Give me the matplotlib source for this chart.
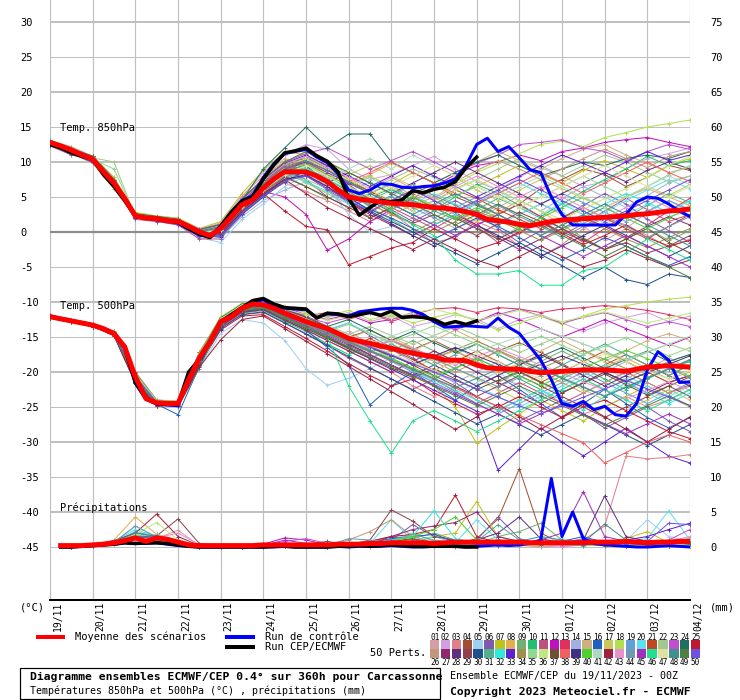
import matplotlib
matplotlib.use("Agg")
import matplotlib.pyplot as plt
from matplotlib import transforms as mtrans
from matplotlib.patches import Rectangle

# ---------------- DATA ----------------
DATE_LABELS = ["19/11", "20/11", "21/11", "22/11", "23/11", "24/11", "25/11", "26/11",
               "27/11", "28/11", "29/11", "30/11", "01/12", "02/12", "03/12", "04/12"]
LEFT_TICKS = [30, 25, 20, 15, 10, 5, 0, -5, -10, -15, -20, -25, -30, -35, -40, -45]
RIGHT_TICKS = [75, 70, 65, 60, 55, 50, 45, 40, 35, 30, 25, 20, 15, 10, 5, 0]

HOURS_12 = list(range(0, 361, 12))      # members (T)
HOURS_12P = list(range(12, 361, 12))    # members (precip)
HOURS_6 = list(range(0, 361, 6))        # mean / control (T)
HOURS_6P = list(range(6, 361, 6))       # mean / control (precip)
HOURS_6_OPER = list(range(0, 241, 6))   # deterministic run (T)
HOURS_6P_OPER = list(range(6, 241, 6))  # deterministic run (precip)

MEMBER_COLORS = [
    "#d4a0a8", "#d0a0e0", "#e08088", "#a05030", "#a0d0f0", "#8058b0", "#c0c020", "#e0b050", "#70b070", "#20c070",
    "#c05080", "#c010c0", "#e03060", "#a0b0e0", "#d0b080", "#2060c0", "#c8c860", "#b0e050", "#60a0d8", "#60e0f0",
    "#c04820", "#a0c890", "#c050d0", "#207060", "#c01830", "#c09878", "#902870", "#603080", "#904050", "#205090",
    "#50b090", "#30e8e0", "#6020d0", "#a09050", "#90d890", "#c0e880", "#705030", "#f06060", "#403080", "#50d030",
    "#b0d8c0", "#a02040", "#e890d0", "#7098b0", "#a030c0", "#20e090", "#e0e0a0", "#409090", "#508040", "#7050e0",
]

T850_MEAN = [12.8, 12.3, 11.7, 11.0, 10.4, 8.6, 7.0, 4.8, 2.3, 2.0,
             1.9, 1.6, 1.5, 0.8, 0.0, -0.5, 0.5, 2.2, 3.9, 4.6,
             6.3, 7.6, 8.6, 8.6, 8.6, 8.0, 7.2, 6.0, 5.0, 4.7,
             4.5, 4.3, 4.1, 4.0, 3.9, 3.7, 3.5, 3.4, 3.2, 2.9,
             2.5, 1.8, 1.6, 1.4, 1.1, 0.9, 1.2, 1.5, 1.7, 1.8,
             1.9, 2.0, 2.1, 2.2, 2.3, 2.5, 2.6, 2.8, 3.0, 3.1, 3.3]
T850_OPER = [12.5, 12.0, 11.3, 10.8, 10.4, 8.2, 6.5, 4.5, 2.2, 2.0,
             1.8, 1.6, 1.4, 0.5, -0.3, -0.8, 0.8, 2.8, 4.4, 5.0,
             7.6, 9.6, 11.3, 11.6, 12.0, 10.9, 10.1, 8.6, 4.8, 2.4,
             3.5, 4.5, 4.3, 4.6, 5.9, 5.6, 6.1, 6.4, 7.2, 9.2, 10.7]
T850_CTRL = [12.6, 12.1, 11.4, 10.9, 10.3, 8.4, 6.8, 4.6, 2.3, 2.0,
             1.8, 1.6, 1.3, 0.4, -0.4, -0.7, 0.9, 2.9, 4.5, 5.2,
             7.8, 9.8, 11.2, 11.5, 11.8, 10.7, 9.9, 8.3, 6.0, 5.5,
             6.0, 6.9, 6.8, 6.4, 6.3, 6.5, 6.6, 7.0, 7.6, 9.5,
             12.5, 13.4, 11.5, 12.2, 10.6, 8.9, 8.5, 5.0, 2.5, 1.0,
             1.0, 1.0, 1.0, 1.0, 2.5, 4.3, 5.0, 4.8, 4.0, 3.0, 2.2]

T500_MEAN = [-12.1, -12.4, -12.7, -13.0, -13.3, -13.8, -14.5, -16.4, -20.7, -23.8,
             -24.4, -24.5, -24.5, -21.1, -18.0, -15.7, -12.8, -12.1, -10.9, -10.3,
             -10.4, -10.9, -11.6, -12.2, -12.8, -13.3, -13.8, -14.5, -15.2, -15.6,
             -15.9, -16.3, -16.6, -17.0, -17.3, -17.6, -17.8, -18.3, -18.3, -18.4,
             -19.0, -19.4, -19.5, -19.6, -19.6, -19.9, -20.1, -20.0, -19.9, -19.8,
             -19.7, -19.7, -19.7, -19.8, -19.9, -19.6, -19.3, -19.2, -19.1, -19.2, -19.3]
T500_OPER = [-12.0, -12.4, -12.7, -13.0, -13.3, -13.8, -14.5, -16.5, -21.5, -23.8,
             -24.5, -24.6, -24.6, -20.0, -18.2, -15.5, -12.8, -11.8, -10.8, -9.8,
             -9.5, -10.3, -10.8, -10.9, -11.0, -12.3, -11.6, -11.7, -12.1, -11.8,
             -11.5, -11.9, -11.3, -12.2, -12.1, -12.2, -12.5, -13.2, -12.8, -13.2, -12.7]
T500_CTRL = [-12.0, -12.4, -12.7, -13.0, -13.3, -13.8, -14.5, -16.6, -21.6, -23.9,
             -24.6, -24.7, -24.8, -20.2, -18.3, -15.6, -12.9, -11.9, -10.9, -10.0,
             -9.7, -10.5, -10.9, -11.0, -11.1, -12.2, -11.7, -11.8, -12.0, -11.4,
             -11.2, -11.0, -10.9, -10.9, -11.2, -11.8, -12.8, -13.6, -13.5, -13.4,
             -13.5, -13.6, -12.3, -13.6, -14.5, -16.4, -18.3, -21.1, -24.5, -24.9,
             -24.2, -25.4, -24.9, -26.1, -26.3, -24.5, -19.7, -17.1, -18.3, -21.5, -21.4]

PRECIP_MEAN = [0.2, 0.2, 0.2, 0.3, 0.4, 0.6, 0.9, 1.3, 0.8, 1.3,
               1.1, 0.7, 0.3, 0.2, 0.2, 0.2, 0.2, 0.2, 0.2, 0.3,
               0.3, 0.3, 0.3, 0.3, 0.3, 0.3, 0.4, 0.4, 0.4, 0.5,
               0.5, 0.6, 0.6, 0.6, 0.6, 0.5, 0.6, 0.7, 0.7, 0.7,
               0.7, 0.7, 0.7, 0.7, 0.6, 0.6, 0.6, 0.6, 0.6, 0.6,
               0.7, 0.7, 0.7, 0.8, 0.7, 0.6, 0.7, 0.7, 0.8, 0.8]
PRECIP_OPER = [0.0, 0.0, 0.1, 0.2, 0.3, 0.4, 0.6, 0.5, 0.6, 0.6,
               0.5, 0.3, 0.1, 0.0, 0.0, 0.0, 0.0, 0.0, 0.0, 0.0,
               0.1, 0.1, 0.0, 0.0, 0.0, 0.0, 0.1, 0.1, 0.2, 0.1,
               0.2, 0.3, 0.2, 0.1, 0.1, 0.1, 0.1, 0.1, 0.0, 0.0]
PRECIP_CTRL = [0.0, 0.0, 0.1, 0.2, 0.3, 0.4, 0.6, 0.5, 0.5, 0.6,
               0.4, 0.2, 0.1, 0.0, 0.0, 0.0, 0.0, 0.0, 0.0, 0.0,
               0.0, 0.1, 0.0, 0.0, 0.0, 0.0, 0.1, 0.0, 0.1, 0.1,
               0.1, 0.2, 0.1, 0.0, 0.0, 0.1, 0.2, 0.1, 0.0, 0.1,
               0.2, 0.3, 0.2, 0.3, 0.5, 1.0, 9.8, 1.5, 5.0, 1.2,
               0.5, 0.3, 0.2, 0.1, 0.0, 0.0, 0.1, 0.2, 0.1, 0.0]

T850_MEMBERS = [
    [12.6, 11.5, 10.8, 7.5, 2.0, 1.8, 1.2, -0.5, 0.8, 4.5, 7.8, 10.2, 9.5, 6.0, 3.2, 5.5, 7.0, 4.2, 2.1, 0.5, 1.8, 3.5, 5.2, 4.0, 2.5, 0.8, -1.2, 0.5, 2.8, 4.5, 3.0],
    [12.9, 12.0, 10.1, 6.5, 2.5, 2.2, 1.7, 0.3, 1.2, 5.0, 8.5, 11.0, 12.5, 11.8, 9.0, 7.5, 8.2, 9.5, 10.8, 9.0, 7.2, 6.0, 7.8, 9.5, 8.0, 6.5, 7.2, 9.0, 10.5, 11.2, 12.0],
    [12.7, 11.4, 10.6, 7.2, 2.1, 1.6, 1.4, -0.2, 0.0, 3.0, 5.5, 7.0, 5.8, 4.5, 3.0, 1.5, 2.8, 0.5, -1.5, -0.8, 1.5, 0.2, -2.0, -3.5, -1.8, 0.5, 2.0, 1.0, -0.5, -2.2, -1.0],
    [13.0, 11.8, 10.2, 6.8, 2.6, 2.0, 1.8, 0.2, 1.0, 4.8, 7.5, 9.8, 10.5, 9.5, 7.5, 5.8, 4.0, 5.5, 6.8, 5.0, 3.8, 2.5, 4.0, 6.2, 7.5, 9.0, 8.2, 6.5, 7.8, 9.5, 8.8],
    [12.5, 11.2, 10.0, 6.9, 2.2, 1.7, 1.3, -0.8, -1.5, 1.8, 4.0, 6.5, 8.0, 6.2, 2.5, 0.0, 0.8, 2.0, 3.5, 2.0, 0.5, -1.0, 0.8, 2.5, 4.2, 3.0, 1.2, 2.5, 4.0, 2.2, 3.0],
    [12.8, 11.6, 10.5, 7.3, 2.4, 2.1, 1.6, 0.1, 0.4, 3.8, 6.8, 9.0, 7.5, 5.0, 3.5, 4.8, 3.2, 1.5, 3.0, 4.5, 2.8, 0.5, -1.5, 0.2, 2.0, 3.8, 5.5, 4.0, 1.8, 0.2, -1.5],
    [12.9, 11.9, 10.9, 7.8, 2.8, 2.3, 2.0, 0.5, 1.5, 5.5, 8.8, 11.5, 11.0, 9.2, 7.0, 5.5, 6.8, 8.5, 7.0, 5.2, 6.5, 8.0, 9.5, 8.2, 7.0, 8.8, 10.2, 9.0, 7.8, 9.5, 10.5],
    [12.4, 11.3, 9.8, 6.2, 2.0, 1.5, 1.1, -0.6, 0.2, 3.5, 6.0, 8.2, 9.8, 8.5, 6.2, 4.0, 2.5, 3.8, 5.0, 3.2, 1.5, 2.8, 4.5, 3.0, 1.0, 2.2, 3.5, 5.0, 6.2, 5.0, 3.8],
    [12.6, 11.7, 10.7, 7.0, 2.3, 1.9, 1.6, -0.1, 0.6, 4.0, 6.5, 8.0, 6.5, 4.8, 5.8, 3.5, 1.8, 0.0, 1.5, 3.0, 4.2, 2.5, 0.8, -0.5, 1.0, -0.8, -2.5, -1.0, 0.5, -1.2, 0.2],
    [13.1, 12.1, 10.3, 6.6, 2.5, 2.0, 1.5, 0.0, 0.9, 4.2, 7.0, 9.5, 10.8, 9.0, 6.5, 5.0, 6.2, 4.5, 3.2, 5.0, 6.8, 5.5, 3.8, 2.2, 4.0, 5.8, 7.5, 9.0, 10.8, 9.5, 10.2],
    [12.3, 11.0, 10.4, 7.4, 1.8, 1.5, 1.0, -1.0, -1.0, 2.5, 5.0, 7.5, 9.0, 7.8, 4.5, 2.0, 3.5, 2.0, 0.5, 2.2, 0.8, -1.5, -0.2, 1.5, -0.5, 1.2, 3.0, 4.8, 3.2, 1.5, 2.5],
    [12.7, 11.8, 10.6, 7.1, 2.2, 1.9, 1.4, -0.3, 0.2, 3.2, 5.8, 5.0, 2.5, -2.6, -1.0, 1.5, 3.2, 4.8, 6.5, 8.2, 9.5, 10.0, 11.0, 10.2, 11.5, 12.0, 12.8, 13.2, 13.5, 12.8, 12.2],
    [12.8, 11.6, 10.3, 6.9, 2.4, 2.0, 1.5, 0.2, 0.7, 4.1, 6.9, 9.3, 8.2, 6.0, 4.2, 2.8, 4.5, 6.0, 4.5, 2.8, 1.0, 2.5, 4.0, 2.2, 0.5, -1.5, 0.5, 2.5, 1.0, 3.0, 4.8],
    [12.5, 11.4, 10.0, 6.7, 2.1, 1.8, 1.3, -0.4, -0.8, 2.2, 4.5, 6.0, 7.2, 5.5, 4.0, 5.5, 7.0, 5.2, 3.8, 2.5, 4.2, 5.8, 4.5, 3.0, 4.8, 6.5, 5.0, 3.5, 5.2, 7.0, 8.0],
    [13.0, 12.2, 10.8, 7.6, 2.6, 2.2, 1.9, 0.4, 1.3, 5.2, 8.0, 10.5, 9.5, 8.0, 6.8, 8.2, 9.8, 8.5, 7.0, 8.5, 10.0, 11.5, 10.2, 9.0, 10.5, 11.8, 12.5, 11.0, 9.8, 8.5, 9.2],
    [12.6, 11.5, 10.2, 6.8, 2.3, 1.9, 1.4, -0.2, 0.3, 3.6, 6.2, 8.8, 9.5, 7.0, 4.8, 3.2, 2.0, 0.5, -1.0, 0.5, 2.0, 0.8, -0.8, -2.5, -4.0, -2.5, -0.8, -2.0, -3.5, -4.8, -3.5],
    [12.8, 11.7, 10.4, 7.0, 2.4, 2.0, 1.6, 0.0, 0.5, 3.9, 6.6, 8.7, 7.0, 5.5, 6.8, 8.0, 6.5, 5.0, 6.2, 7.8, 6.0, 4.5, 6.0, 7.5, 6.2, 4.8, 3.5, 5.0, 6.5, 5.2, 6.8],
    [12.9, 11.8, 10.5, 7.2, 2.5, 2.1, 1.7, 0.1, 0.9, 4.5, 7.2, 9.8, 11.5, 10.0, 8.2, 9.5, 8.0, 6.5, 5.0, 6.8, 8.5, 9.8, 11.2, 12.5, 13.0, 12.2, 13.5, 14.2, 15.0, 15.5, 16.0],
    [12.4, 11.2, 9.9, 6.5, 2.0, 1.6, 1.2, -0.7, -0.5, 2.8, 5.2, 7.8, 8.5, 6.8, 5.2, 3.8, 5.0, 3.5, 2.0, 3.5, 5.0, 3.8, 2.5, 4.0, 5.5, 4.2, 2.8, 1.5, 3.0, 4.5, 3.2],
    [12.7, 11.6, 10.3, 7.0, 2.3, 1.9, 1.5, -0.2, 0.4, 3.7, 6.2, 8.5, 9.2, 7.5, 5.8, 7.2, 5.5, 4.0, 5.5, 4.0, 2.5, 1.0, 2.5, 4.0, 2.8, 1.2, 2.8, 4.5, 6.0, 7.5, 6.2],
    [12.8, 11.9, 10.7, 7.4, 2.5, 2.1, 1.6, 0.2, 0.8, 4.3, 7.0, 9.2, 10.0, 8.8, 7.2, 5.8, 4.5, 3.0, 4.5, 6.0, 4.8, 3.2, 1.8, 0.5, 2.0, 3.5, 2.0, 0.5, -1.0, 0.8, 2.5],
    [12.6, 11.5, 10.6, 10.0, 2.2, 1.8, 1.3, -0.3, 0.1, 3.4, 5.9, 8.0, 7.5, 6.2, 4.8, 6.0, 7.5, 9.0, 7.8, 6.2, 7.5, 9.0, 10.5, 9.2, 8.0, 9.5, 11.0, 10.0, 8.5, 7.2, 8.0],
    [12.9, 12.0, 10.8, 7.5, 2.6, 2.2, 1.8, 0.4, 1.1, 4.8, 7.5, 10.0, 11.2, 12.0, 10.5, 9.0, 10.2, 11.5, 10.0, 8.5, 9.8, 11.0, 12.5, 12.8, 13.2, 12.0, 11.5, 10.2, 11.5, 12.5, 11.8],
    [12.7, 11.6, 10.5, 7.0, 2.3, 1.9, 1.5, 0.0, 0.8, 4.5, 9.0, 12.0, 15.0, 12.0, 14.0, 14.0, 10.0, 8.5, 7.0, 8.5, 10.0, 11.0, 9.5, 8.0, 9.0, 10.0, 9.5, 10.5, 11.0, 10.5, 11.5],
    [12.5, 11.3, 10.1, 6.8, 2.1, 1.7, 1.2, -0.5, -0.2, 3.0, 5.5, 3.0, 0.8, 0.3, -4.7, -3.5, -2.3, -1.5, 0.5, -1.0, -2.5, -1.5, 0.0, 1.5, -0.2, -1.8, -0.5, 1.0, -0.8, -2.0, -1.2],
    [12.8, 11.7, 10.4, 7.1, 2.4, 2.0, 1.5, 0.1, 0.6, 4.0, 6.8, 9.0, 9.8, 8.2, 6.5, 4.8, 3.2, 4.5, 6.0, 7.2, 8.8, 10.2, 9.0, 7.5, 9.0, 10.5, 11.8, 10.5, 9.2, 10.8, 11.5],
    [12.6, 11.4, 10.2, 6.9, 2.2, 1.8, 1.3, -0.4, 0.0, 3.3, 5.6, 7.5, 8.0, 6.5, 4.2, 2.5, 1.0, -0.5, 1.0, 2.5, 1.0, -0.8, -2.5, -1.0, 0.5, 2.0, 0.8, -0.8, 0.8, 2.2, 1.0],
    [12.9, 11.8, 10.6, 7.3, 2.5, 2.1, 1.7, 0.2, 0.9, 4.4, 7.2, 9.5, 8.5, 7.0, 8.5, 7.0, 5.5, 7.0, 8.5, 10.0, 8.5, 7.0, 5.5, 4.0, 5.5, 7.0, 8.5, 7.2, 8.8, 10.0, 9.0],
    [12.7, 11.5, 10.3, 6.9, 2.3, 1.9, 1.4, -0.2, 0.3, 3.6, 6.0, 8.2, 10.5, 9.0, 6.8, 4.5, 2.8, 1.2, 2.5, 1.0, -0.5, 1.2, 2.8, 1.5, 0.0, -1.2, -2.5, -1.5, -3.0, -2.0, -0.5],
    [12.5, 11.3, 10.0, 6.6, 2.0, 1.6, 1.1, -0.6, -0.7, 2.6, 5.0, 7.2, 8.8, 7.2, 5.0, 3.0, 1.5, 0.0, -1.5, -3.0, -4.5, -3.0, -1.5, -3.2, -4.8, -6.5, -5.0, -6.8, -7.5, -6.0, -6.5],
    [12.8, 11.7, 10.5, 7.1, 2.4, 2.0, 1.6, 0.0, 0.5, 3.9, 6.5, 8.8, 9.5, 8.0, 6.2, 4.5, 6.0, 4.5, 3.0, 1.8, 3.2, 4.8, 3.5, 2.0, 0.5, 2.0, 3.5, 2.0, 3.8, 5.5, 4.2],
    [12.6, 11.6, 10.4, 7.0, 2.3, 1.9, 1.5, -0.1, 0.4, 3.8, 6.4, 8.6, 7.2, 5.8, 4.2, 5.5, 4.0, 2.5, 1.0, 2.5, 4.0, 5.5, 7.0, 5.5, 4.0, 2.5, 4.0, 5.5, 4.2, 2.8, 4.5],
    [12.9, 11.9, 10.8, 7.5, 2.6, 2.2, 1.8, 0.3, 1.0, 4.6, 7.4, 9.8, 11.0, 9.5, 8.0, 6.5, 8.0, 9.5, 8.0, 6.5, 5.0, 6.5, 8.0, 9.5, 11.0, 9.8, 8.5, 10.0, 11.5, 10.2, 11.0],
    [12.4, 11.2, 10.1, 6.7, 2.1, 1.7, 1.2, -0.5, -0.3, 3.0, 5.4, 7.8, 9.0, 7.5, 5.8, 4.0, 2.5, 1.2, 0.0, 1.5, 3.0, 1.8, 0.2, -1.2, 0.2, 1.8, 0.5, -1.0, -2.2, -0.8, 0.5],
    [12.7, 11.6, 10.4, 9.0, 2.4, 2.0, 1.5, 0.0, 0.6, 3.9, 6.4, 8.6, 9.0, 7.8, 6.5, 7.8, 6.2, 5.0, 3.8, 5.2, 6.5, 5.0, 3.5, 5.0, 6.5, 8.0, 6.5, 5.0, 6.5, 8.2, 9.5],
    [12.8, 11.8, 10.6, 7.2, 2.5, 2.1, 1.6, 0.1, 0.7, 4.1, 6.8, 9.2, 10.5, 9.0, 7.5, 6.0, 4.5, 3.0, 4.5, 6.0, 7.5, 6.0, 4.5, 3.0, 1.8, 3.2, 4.8, 6.2, 7.8, 9.5, 10.8],
    [12.6, 11.4, 10.2, 6.8, 2.2, 1.8, 1.3, -0.3, 0.2, 3.5, 5.8, 7.8, 6.5, 5.0, 3.5, 2.0, 3.5, 5.0, 3.5, 2.0, 0.5, -1.0, 0.5, 2.0, 0.5, -1.0, -2.5, -1.0, 0.5, -1.5, -3.0],
    [12.9, 11.8, 10.6, 7.3, 2.5, 2.1, 1.7, 0.2, 0.9, 4.3, 7.0, 9.5, 10.2, 8.8, 7.2, 8.5, 10.0, 8.5, 7.0, 5.5, 4.0, 5.5, 7.0, 8.5, 7.0, 5.5, 7.0, 8.5, 10.0, 8.5, 7.2],
    [12.5, 11.3, 10.0, 6.6, 2.1, 1.7, 1.2, -0.5, -0.4, 2.9, 5.3, 7.5, 8.2, 6.5, 4.5, 2.8, 1.2, -0.5, -2.0, -0.5, 1.0, -0.5, -2.0, -3.5, -2.0, -0.5, 1.0, -0.5, -2.0, -3.5, -2.0],
    [12.8, 11.7, 10.5, 7.1, 2.4, 2.0, 1.6, 0.1, 0.6, 4.0, 6.7, 9.0, 9.8, 8.2, 6.5, 5.0, 3.5, 5.0, 3.5, 2.0, 3.5, 2.0, 0.5, 2.0, 3.5, 5.0, 3.5, 2.0, 0.5, 2.0, 3.5],
    [12.7, 11.5, 10.3, 7.0, 2.3, 1.9, 1.4, -0.2, 0.3, 3.6, 6.1, 8.3, 9.0, 7.5, 9.0, 10.5, 9.0, 11.0, 9.5, 8.0, 6.5, 5.0, 6.5, 8.0, 6.5, 5.0, 3.5, 5.0, 6.5, 8.0, 6.8],
    [12.6, 11.4, 10.1, 6.7, 2.2, 1.8, 1.3, -0.4, -0.1, 3.2, 5.5, 7.5, 5.5, 3.5, 2.0, 0.5, -1.0, -2.5, -1.0, -2.5, -4.0, -5.0, -3.5, -2.0, -3.5, -5.0, -4.0, -2.5, -3.8, -5.0, -4.0],
    [12.9, 11.9, 10.7, 7.4, 2.5, 2.1, 1.7, 0.2, 0.9, 4.5, 7.3, 9.7, 10.8, 9.2, 7.8, 6.2, 7.8, 6.2, 4.8, 6.5, 8.0, 6.5, 5.0, 6.5, 5.0, 3.5, 2.0, 3.5, 5.0, 3.5, 2.0],
    [12.5, 11.4, 10.2, 6.8, 2.2, 1.8, 1.3, -0.4, 0.1, 3.4, 5.8, 8.0, 8.8, 7.2, 5.5, 3.8, 5.2, 6.8, 5.2, 3.8, 2.2, 3.8, 2.2, 0.8, -0.8, 0.8, 2.2, 0.8, -0.8, 0.8, 2.2],
    [12.8, 11.7, 10.5, 7.1, 2.4, 2.0, 1.5, 0.0, 0.6, 4.0, 6.6, 9.0, 10.0, 8.5, 7.0, 5.5, 4.0, 2.5, 1.0, -0.5, 1.0, 2.5, 1.0, -0.5, -2.0, -3.5, -2.0, -0.5, -2.0, -3.5, -5.0],
    [12.7, 11.6, 10.4, 7.0, 2.3, 1.9, 1.5, -0.1, 0.5, 3.8, 6.3, 8.5, 9.2, 7.5, 6.0, 4.5, 3.0, 1.0, -0.5, -4.0, -6.0, -6.0, -5.5, -7.6, -7.6, -5.5, -5.0, -3.0, -1.0, -2.5, -4.0],
    [12.6, 11.5, 10.3, 6.9, 2.3, 1.9, 1.4, -0.2, 0.3, 3.6, 6.0, 8.2, 9.5, 8.0, 6.5, 5.0, 6.5, 8.0, 9.5, 8.0, 6.5, 5.0, 3.5, 5.0, 6.5, 8.0, 9.5, 8.0, 6.5, 5.0, 6.5],
    [12.8, 11.8, 10.6, 7.2, 2.5, 2.1, 1.6, 0.1, 0.8, 4.2, 6.9, 9.3, 10.2, 8.8, 7.2, 5.5, 4.0, 2.5, 4.0, 5.5, 4.0, 2.5, 1.0, -0.5, 1.0, 2.5, 4.0, 2.5, 1.0, -0.5, -2.0],
    [12.9, 11.9, 10.8, 7.5, 2.6, 2.2, 1.8, 0.3, 1.1, 4.7, 7.5, 10.0, 11.5, 10.0, 8.5, 7.0, 5.5, 4.0, 2.5, 1.0, 2.5, 4.0, 2.5, 1.0, -0.5, -2.0, -3.5, -2.0, -3.5, -5.0, -6.5],
    [12.5, 11.3, 10.0, 6.6, 2.0, 1.6, 1.1, -0.6, -0.6, 2.7, 5.1, 7.3, 8.0, 6.2, 4.5, 3.0, 4.5, 6.0, 4.5, 3.0, 4.5, 6.0, 7.5, 6.0, 4.5, 3.0, 1.5, 3.0, 4.5, 6.0, 7.5],
]

T500_MEMBERS = [
    [-12.0, -12.6, -13.2, -14.3, -20.5, -24.2, -24.8, -18.5, -13.0, -11.2, -10.5, -12.0, -13.5, -15.0, -14.2, -16.0, -17.5, -19.0, -17.8, -16.5, -18.0, -20.5, -22.0, -20.5, -19.0, -21.0, -22.5, -21.0, -19.5, -18.0, -19.5],
    [-12.2, -12.8, -13.4, -14.6, -21.0, -24.5, -24.3, -17.5, -12.5, -10.2, -9.5, -10.8, -11.5, -12.2, -11.5, -12.8, -12.0, -13.5, -12.8, -11.8, -12.5, -13.8, -12.5, -11.8, -13.0, -14.2, -13.0, -12.2, -11.5, -12.8, -12.0],
    [-12.1, -12.7, -13.3, -14.5, -20.8, -24.6, -24.6, -18.8, -13.5, -11.5, -11.0, -12.5, -14.0, -15.5, -17.0, -18.5, -20.0, -22.0, -23.5, -22.0, -24.0, -25.5, -24.0, -22.5, -24.5, -26.0, -25.0, -23.5, -25.0, -24.0, -22.5],
    [-11.9, -12.5, -13.1, -14.2, -20.0, -24.0, -24.2, -17.2, -12.2, -10.5, -10.0, -11.2, -12.0, -13.5, -15.0, -14.0, -15.5, -16.8, -15.5, -17.0, -18.5, -17.0, -15.8, -17.2, -18.8, -20.5, -19.0, -17.5, -19.0, -20.5, -19.0],
    [-12.3, -12.9, -13.5, -14.8, -21.5, -24.8, -24.8, -19.5, -14.5, -12.5, -13.0, -15.5, -19.5, -21.9, -20.9, -19.5, -18.0, -19.8, -21.5, -23.0, -21.5, -20.0, -22.0, -24.0, -22.5, -21.0, -19.5, -21.0, -22.5, -24.0, -22.5],
    [-12.0, -12.6, -13.2, -14.4, -20.6, -24.3, -24.5, -18.0, -12.8, -10.8, -10.3, -11.5, -12.8, -14.0, -13.0, -14.8, -16.5, -18.0, -20.0, -21.5, -23.5, -25.0, -27.0, -25.5, -24.0, -26.0, -28.0, -26.5, -25.0, -27.0, -28.5],
    [-12.1, -12.7, -13.3, -14.5, -20.7, -24.4, -24.5, -18.2, -13.0, -11.0, -10.6, -12.0, -13.2, -14.5, -16.0, -17.5, -19.0, -20.5, -22.0, -25.0, -30.2, -28.0, -26.0, -24.0, -25.5, -27.0, -25.0, -23.5, -22.0, -23.5, -25.0],
    [-12.2, -12.8, -13.4, -14.6, -21.2, -24.6, -24.4, -17.8, -12.6, -10.6, -10.2, -11.4, -12.5, -13.6, -15.0, -16.2, -15.0, -16.5, -18.0, -17.0, -18.5, -20.0, -18.8, -17.5, -19.0, -20.5, -19.2, -18.0, -19.5, -21.0, -20.0],
    [-12.0, -12.6, -13.2, -14.4, -20.4, -24.2, -24.4, -18.3, -13.2, -11.3, -10.8, -12.2, -13.8, -15.2, -16.8, -18.0, -17.0, -15.5, -17.0, -18.5, -20.0, -21.5, -20.0, -18.5, -17.0, -18.5, -20.0, -21.5, -20.0, -18.5, -17.5],
    [-12.1, -12.7, -13.3, -14.5, -20.9, -24.5, -24.6, -18.6, -13.4, -11.6, -11.2, -12.8, -14.2, -16.0, -17.5, -16.2, -18.0, -19.5, -21.0, -19.5, -18.0, -19.5, -21.0, -22.5, -21.0, -19.5, -21.0, -22.5, -21.0, -19.5, -18.5],
    [-12.3, -12.9, -13.5, -14.7, -21.3, -24.7, -24.6, -18.9, -13.6, -11.8, -11.5, -13.0, -14.5, -16.2, -18.0, -19.5, -21.0, -22.5, -21.0, -22.8, -24.5, -23.0, -21.5, -23.0, -24.5, -23.0, -21.5, -20.0, -21.5, -23.0, -21.8],
    [-11.9, -12.5, -13.1, -14.3, -20.2, -24.1, -24.3, -17.6, -12.3, -10.4, -9.8, -10.8, -11.8, -12.5, -11.8, -13.0, -12.5, -11.5, -12.8, -14.0, -12.8, -11.5, -12.5, -13.8, -15.0, -13.8, -12.5, -13.8, -15.0, -16.2, -15.0],
    [-12.0, -12.6, -13.2, -14.3, -20.4, -24.3, -24.4, -17.8, -12.6, -10.5, -10.0, -11.0, -12.0, -11.5, -12.5, -11.5, -12.8, -11.8, -11.0, -10.8, -11.5, -10.8, -11.0, -11.5, -11.0, -10.8, -10.5, -10.8, -11.2, -11.8, -12.5],
    [-12.2, -12.8, -13.4, -14.6, -21.0, -24.5, -24.5, -18.4, -13.1, -11.1, -10.7, -12.1, -13.5, -14.8, -16.5, -18.0, -16.8, -18.5, -20.0, -21.5, -20.0, -18.5, -20.0, -21.5, -23.0, -21.5, -20.0, -18.5, -20.0, -21.5, -20.5],
    [-12.0, -12.6, -13.2, -14.4, -20.6, -24.4, -24.5, -18.0, -12.8, -10.9, -10.4, -11.6, -12.8, -14.0, -15.2, -14.0, -15.5, -17.0, -15.5, -14.0, -15.5, -17.0, -18.5, -17.0, -15.5, -17.0, -18.5, -17.0, -15.5, -14.5, -15.5],
    [-12.1, -12.7, -13.3, -14.5, -20.8, -24.6, -26.1, -19.2, -13.4, -11.4, -11.0, -12.6, -14.0, -16.5, -19.0, -24.7, -22.0, -20.0, -22.0, -24.0, -22.0, -20.5, -22.5, -24.5, -26.5, -24.5, -22.5, -24.5, -26.5, -28.0, -26.5],
    [-12.2, -12.8, -13.4, -14.6, -21.1, -24.5, -24.4, -17.9, -12.7, -10.7, -10.2, -11.5, -12.6, -13.8, -15.0, -16.5, -18.0, -19.5, -18.0, -19.5, -21.0, -22.5, -24.0, -22.5, -21.0, -22.5, -24.0, -25.5, -24.0, -22.5, -24.0],
    [-11.9, -12.5, -13.1, -14.2, -20.1, -24.0, -24.2, -17.3, -12.1, -10.2, -9.6, -10.6, -11.5, -12.0, -11.2, -12.5, -11.8, -13.0, -12.2, -11.5, -12.8, -14.0, -13.0, -12.0, -13.2, -12.0, -11.0, -10.5, -10.0, -9.6, -9.3],
    [-12.1, -12.7, -13.3, -14.5, -20.7, -24.4, -24.5, -18.1, -12.9, -11.0, -10.5, -11.8, -13.0, -14.2, -15.5, -17.0, -18.5, -20.0, -21.5, -23.0, -24.5, -26.0, -24.5, -23.0, -21.5, -20.0, -21.5, -23.0, -24.5, -23.0, -21.5],
    [-12.0, -12.6, -13.2, -14.4, -20.5, -24.3, -24.4, -17.9, -12.7, -10.8, -10.4, -11.7, -12.9, -14.0, -13.0, -14.5, -16.0, -17.5, -19.0, -20.5, -22.0, -23.5, -25.0, -23.5, -22.0, -20.5, -19.0, -20.5, -22.0, -23.5, -22.0],
    [-12.2, -12.8, -13.4, -14.6, -21.0, -24.6, -24.6, -18.5, -13.2, -11.2, -10.8, -12.2, -13.6, -15.0, -16.5, -15.2, -16.8, -18.2, -19.8, -18.5, -17.0, -18.5, -20.0, -21.5, -20.0, -18.5, -17.0, -18.5, -20.0, -21.5, -20.5],
    [-12.0, -12.6, -13.2, -14.3, -20.3, -24.2, -24.3, -17.7, -12.5, -10.6, -10.1, -11.3, -12.4, -13.4, -14.6, -13.5, -14.8, -16.0, -14.8, -13.5, -14.8, -16.0, -17.2, -16.0, -14.8, -16.0, -17.2, -18.5, -17.2, -16.0, -17.0],
    [-12.1, -12.7, -13.3, -14.5, -20.6, -24.4, -24.5, -18.0, -12.8, -10.9, -10.3, -11.2, -12.2, -13.0, -12.2, -11.5, -12.5, -11.8, -12.8, -13.8, -12.8, -11.8, -11.0, -12.0, -13.0, -12.2, -11.5, -12.5, -13.5, -12.8, -13.5],
    [-11.9, -12.5, -13.1, -14.3, -20.2, -24.1, -24.3, -17.5, -12.3, -10.3, -9.8, -11.0, -12.2, -13.5, -12.5, -14.0, -15.5, -14.2, -15.8, -17.2, -16.0, -17.5, -19.0, -17.8, -16.5, -18.0, -19.5, -18.2, -17.0, -18.5, -17.5],
    [-12.3, -12.9, -13.5, -14.8, -21.5, -24.8, -24.8, -19.0, -14.0, -12.0, -11.8, -13.5, -15.2, -17.0, -18.8, -20.5, -22.0, -21.0, -23.0, -24.5, -26.0, -25.0, -23.5, -25.0, -26.5, -25.0, -24.0, -25.5, -27.0, -28.5, -29.5],
    [-12.0, -12.6, -13.2, -14.4, -20.6, -24.4, -24.5, -18.1, -12.9, -11.0, -10.5, -11.9, -13.1, -14.3, -15.5, -16.8, -15.5, -17.0, -18.5, -20.0, -18.5, -17.0, -18.5, -20.0, -21.5, -23.0, -21.5, -20.0, -21.5, -23.0, -22.0],
    [-12.2, -12.8, -13.4, -14.6, -21.1, -24.6, -24.6, -18.7, -13.5, -11.5, -11.1, -12.6, -14.0, -15.5, -17.0, -18.5, -20.0, -18.5, -17.0, -18.5, -20.0, -21.5, -23.0, -24.5, -23.0, -21.5, -20.0, -21.5, -23.0, -21.5, -20.5],
    [-12.1, -12.7, -13.3, -14.5, -20.8, -24.5, -24.5, -18.2, -13.0, -11.1, -10.6, -11.9, -13.2, -14.6, -16.0, -17.5, -19.0, -20.5, -19.0, -20.5, -22.0, -20.5, -19.0, -17.5, -19.0, -20.5, -22.0, -20.5, -19.0, -20.5, -22.0],
    [-12.0, -12.6, -13.2, -14.3, -20.4, -24.2, -24.4, -17.8, -12.6, -10.7, -10.2, -11.4, -12.6, -13.8, -15.0, -16.2, -17.5, -19.0, -20.5, -22.0, -23.5, -22.0, -20.5, -22.0, -23.5, -25.0, -26.5, -25.0, -23.5, -22.0, -23.5],
    [-12.3, -12.9, -13.5, -14.7, -21.4, -24.7, -24.7, -19.0, -13.8, -11.8, -11.4, -13.0, -14.6, -16.2, -17.8, -19.4, -21.0, -22.6, -24.2, -25.8, -27.4, -26.0, -27.5, -29.0, -27.5, -26.0, -27.5, -29.0, -30.5, -29.0, -27.5],
    [-12.1, -12.7, -13.3, -14.5, -20.7, -24.5, -25.0, -19.5, -13.3, -11.2, -10.7, -12.0, -13.3, -14.6, -15.9, -17.2, -16.0, -17.5, -19.0, -17.5, -16.0, -17.5, -19.0, -20.5, -19.0, -17.5, -16.0, -17.5, -19.0, -20.5, -19.0],
    [-12.0, -12.6, -13.2, -14.4, -20.6, -24.3, -24.4, -17.9, -12.8, -10.9, -10.4, -11.7, -13.0, -14.3, -15.6, -17.0, -18.4, -19.8, -21.2, -22.6, -24.0, -25.4, -24.0, -22.6, -24.0, -25.4, -23.5, -21.5, -23.0, -24.5, -23.0],
    [-12.2, -12.8, -13.4, -14.6, -21.2, -24.6, -24.5, -18.4, -13.1, -11.1, -10.7, -12.1, -13.6, -15.1, -16.6, -18.1, -19.6, -21.1, -22.6, -24.1, -25.6, -34.0, -31.0, -28.0, -30.0, -32.0, -30.0, -28.0, -30.0, -32.0, -33.0],
    [-12.0, -12.6, -13.2, -14.4, -20.5, -24.3, -24.4, -17.8, -12.6, -10.7, -10.2, -11.5, -12.7, -14.0, -15.3, -16.6, -15.4, -16.7, -18.0, -16.8, -15.6, -16.9, -18.2, -19.5, -18.2, -16.9, -18.2, -19.5, -20.8, -19.5, -18.2],
    [-12.1, -12.7, -13.3, -14.5, -20.7, -24.4, -24.5, -18.1, -12.9, -11.0, -10.5, -11.8, -13.0, -14.2, -13.2, -14.5, -15.8, -14.6, -13.4, -14.7, -16.0, -17.3, -16.1, -14.9, -16.2, -17.5, -16.3, -15.1, -16.4, -17.7, -16.5],
    [-11.9, -12.5, -13.1, -14.3, -20.3, -24.1, -24.3, -17.6, -12.4, -10.4, -9.9, -11.0, -11.8, -12.6, -12.0, -11.5, -12.3, -11.6, -11.0, -11.8, -12.6, -11.9, -11.2, -12.0, -12.8, -12.1, -11.4, -12.2, -13.0, -12.3, -11.6],
    [-12.2, -12.8, -13.4, -14.6, -21.0, -24.6, -24.6, -18.6, -13.3, -11.3, -10.9, -12.4, -13.8, -15.2, -16.6, -18.0, -19.4, -20.8, -19.5, -21.0, -22.5, -21.2, -19.9, -21.4, -22.9, -21.6, -20.3, -21.8, -23.3, -22.0, -20.7],
    [-12.1, -12.7, -13.3, -14.5, -20.8, -24.5, -24.5, -18.3, -13.1, -11.1, -10.6, -11.9, -13.2, -14.5, -15.8, -17.1, -18.4, -19.7, -21.0, -22.3, -23.6, -24.9, -26.2, -27.5, -28.8, -30.1, -33.0, -31.5, -30.0, -29.0, -30.0],
    [-12.0, -12.6, -13.2, -14.4, -20.6, -24.4, -24.5, -18.0, -12.8, -10.9, -10.4, -11.7, -12.9, -14.1, -15.3, -16.5, -17.7, -18.9, -17.7, -16.5, -17.7, -18.9, -20.1, -18.9, -17.7, -18.9, -20.1, -21.3, -20.1, -18.9, -17.7],
    [-12.2, -12.8, -13.4, -14.6, -21.1, -24.5, -24.4, -18.2, -13.0, -11.0, -10.6, -11.9, -13.1, -14.4, -15.6, -16.9, -18.1, -19.4, -20.6, -19.4, -18.1, -19.4, -20.6, -21.9, -20.6, -19.4, -18.1, -16.9, -18.1, -19.4, -20.6],
    [-12.0, -12.6, -13.2, -14.4, -20.5, -24.3, -24.4, -17.9, -12.7, -10.8, -10.3, -11.5, -12.7, -13.8, -14.9, -16.0, -14.9, -13.8, -14.9, -16.0, -17.1, -16.0, -14.9, -13.8, -14.9, -16.0, -17.1, -18.2, -17.1, -16.0, -14.9],
    [-12.3, -12.9, -13.5, -14.8, -21.6, -24.8, -24.9, -19.3, -15.4, -12.5, -12.0, -13.8, -15.6, -17.4, -19.2, -21.0, -22.8, -24.6, -26.4, -28.2, -26.4, -24.6, -26.4, -28.2, -26.4, -24.6, -26.4, -28.2, -30.0, -28.2, -26.4],
    [-12.1, -12.7, -13.3, -14.5, -20.7, -24.4, -24.5, -18.1, -12.9, -11.0, -10.5, -11.8, -13.0, -14.2, -15.4, -16.6, -15.4, -16.6, -17.8, -19.0, -17.8, -16.6, -17.8, -19.0, -20.2, -21.4, -22.6, -23.8, -22.6, -21.4, -22.6],
    [-12.0, -12.6, -13.2, -14.4, -20.6, -24.4, -24.5, -18.0, -12.8, -10.9, -10.4, -11.7, -13.0, -14.3, -15.6, -16.9, -18.2, -16.9, -18.2, -19.5, -20.8, -22.1, -20.8, -19.5, -20.8, -22.1, -23.4, -22.1, -20.8, -19.5, -20.8],
    [-12.2, -12.8, -13.4, -14.6, -21.0, -24.5, -24.5, -18.3, -13.0, -11.0, -10.6, -12.0, -13.4, -14.8, -16.2, -17.6, -19.0, -20.4, -21.8, -23.2, -24.6, -26.0, -27.4, -26.0, -24.6, -26.0, -27.4, -28.8, -27.4, -26.0, -27.4],
    [-12.1, -12.7, -13.3, -14.5, -20.8, -24.5, -24.6, -18.4, -13.2, -11.2, -10.8, -12.2, -13.6, -15.0, -22.0, -27.0, -31.6, -27.0, -25.5, -27.0, -28.5, -27.0, -25.5, -24.0, -22.5, -21.0, -22.5, -24.0, -25.5, -24.0, -22.5],
    [-12.0, -12.6, -13.2, -14.4, -20.5, -24.3, -24.4, -17.8, -12.6, -10.7, -10.2, -11.4, -12.6, -13.8, -15.0, -16.2, -17.4, -18.6, -19.8, -18.6, -17.4, -18.6, -19.8, -21.0, -19.8, -18.6, -17.4, -18.6, -19.8, -21.0, -19.8],
    [-12.1, -12.7, -13.3, -14.5, -20.7, -24.4, -24.5, -18.1, -12.9, -11.0, -10.5, -11.8, -13.1, -14.4, -15.7, -17.0, -18.3, -19.6, -20.9, -22.2, -20.9, -19.6, -18.3, -19.6, -20.9, -22.2, -23.5, -22.2, -20.9, -19.6, -18.3],
    [-12.2, -12.8, -13.4, -14.6, -21.1, -24.6, -24.6, -18.5, -13.2, -11.2, -10.8, -12.2, -13.6, -15.0, -16.4, -17.8, -19.2, -20.6, -22.0, -23.4, -24.8, -23.4, -22.0, -23.4, -24.8, -26.2, -27.6, -26.2, -24.8, -23.4, -24.8],
    [-12.0, -12.6, -13.2, -14.4, -20.6, -24.3, -24.4, -17.9, -12.7, -10.8, -10.3, -11.6, -12.8, -14.0, -15.2, -16.4, -17.6, -18.8, -20.0, -21.2, -22.4, -23.6, -24.8, -26.0, -24.8, -23.6, -22.4, -21.2, -22.4, -23.6, -24.8],
]

PRECIP_MEMBERS = [
    [0, 0.1, 0.5, 1.0, 1.2, 2.4, 0.2, 0, 0, 0, 0.3, 0.2, 0, 0, 0, 0.5, 0.8, 0.3, 0, 0.2, 0.6, 0.3, 0, 0.2, 0.5, 0.8, 0.3, 0.5, 1.0, 0.6],
    [0, 0.2, 0.7, 1.5, 1.1, 0.6, 0, 0, 0, 0.2, 0.5, 0.3, 0, 0.2, 0.6, 1.2, 0.5, 0.2, 0, 0.3, 1.0, 0.4, 0, 0, 0.3, 0.6, 0.2, 0, 0.4, 0.8],
    [0, 0.1, 0.4, 1.1, 0.9, 0.4, 0, 0, 0, 0, 0.2, 0, 0, 0, 0.3, 0.5, 0.8, 0.4, 0.2, 0, 0.3, 0.6, 0.2, 0.4, 1.0, 3.0, 13.0, 12.6, 12.8, 13.2],
    [0, 0.2, 0.8, 1.3, 1.4, 0.7, 0.1, 0, 0, 0.1, 0.4, 0.2, 0, 0.3, 0.8, 1.5, 1.0, 0.5, 0.3, 1.2, 4.0, 11.2, 2.0, 0.5, 0.2, 0.5, 0.3, 0.1, 0.4, 0.2],
    [0, 0.1, 0.6, 3.0, 1.5, 0.5, 0, 0, 0, 0, 0.2, 0.1, 0, 0, 0.2, 0.4, 0.3, 0.1, 0, 0.2, 0.5, 0.3, 0.8, 1.2, 0.6, 0.3, 0.9, 3.9, 1.5, 0.8],
    [0, 0.2, 0.7, 1.4, 1.6, 0.8, 0.1, 0, 0, 0.2, 0.6, 0.3, 0, 0.2, 0.4, 1.0, 3.2, 1.5, 0.8, 1.0, 4.3, 1.2, 0.5, 0.3, 0.6, 0.2, 0.4, 0.8, 0.3, 0.5],
    [0, 0.1, 0.5, 1.8, 1.3, 0.6, 0, 0, 0, 0, 0.1, 0.2, 0, 0, 0.3, 0.8, 0.5, 1.5, 2.0, 6.5, 1.5, 0.6, 0.3, 0.2, 0.4, 0.8, 1.2, 2.2, 0.6, 0.3],
    [0, 0.3, 1.0, 4.3, 1.8, 0.9, 0.2, 0, 0, 0.1, 0.3, 0.1, 0, 0.1, 0.5, 0.9, 0.4, 0.2, 0.6, 1.0, 0.4, 0.2, 0.1, 0.3, 0.2, 0.5, 0.3, 0.2, 0.1, 0.3],
    [0, 0.1, 0.6, 1.6, 1.2, 0.5, 0, 0, 0, 0, 0.2, 0.1, 0, 0, 0.2, 0.6, 1.2, 2.0, 1.0, 0.5, 1.5, 2.2, 3.4, 1.0, 0.4, 0.2, 0.5, 0.3, 0.6, 0.4],
    [0, 0.2, 0.8, 1.5, 1.3, 0.7, 0.1, 0, 0, 0.1, 0.3, 0.2, 0, 0.1, 0.4, 0.7, 0.5, 0.3, 0.2, 0.5, 0.8, 0.4, 0.2, 0.6, 1.0, 0.6, 0.3, 0.5, 0.8, 1.2],
    [0, 0.1, 0.5, 1.2, 1.8, 0.8, 0.1, 0, 0, 0, 0.3, 0.2, 0, 0.2, 0.5, 0.6, 0.4, 0.2, 0.4, 0.8, 0.5, 0.3, 0.6, 0.9, 0.4, 0.3, 0.7, 0.5, 0.3, 0.6],
    [0, 0.2, 0.7, 1.3, 1.5, 0.6, 0, 0, 0, 0.4, 1.3, 1.0, 0.3, 0, 0.2, 0.5, 0.3, 0.1, 0.2, 0.4, 0.2, 0.5, 0.8, 0.3, 0.5, 0.3, 0.2, 0.6, 0.4, 0.2],
    [0, 0.1, 0.6, 1.4, 1.2, 0.6, 0.1, 0, 0, 0, 0.2, 0.1, 0, 0.1, 0.3, 0.5, 0.8, 0.5, 0.3, 0.6, 1.0, 0.6, 0.3, 0.2, 0.5, 0.8, 0.4, 0.2, 0.6, 1.0],
    [0, 0.2, 0.9, 1.7, 1.4, 0.7, 0.1, 0, 0, 0.1, 0.2, 0.1, 0, 0, 0.4, 1.0, 2.0, 0.8, 0.4, 0.6, 0.3, 0.2, 0.5, 0.3, 0.6, 0.4, 0.3, 0.8, 0.5, 0.3],
    [0, 0.1, 0.5, 1.1, 1.0, 0.5, 0, 0, 0, 0, 0.1, 0.2, 0, 0, 0.3, 0.6, 0.4, 0.3, 0.5, 0.8, 0.4, 0.6, 0.3, 0.2, 0.4, 0.6, 0.3, 0.5, 0.8, 0.4],
    [0, 0.2, 0.8, 2.0, 1.6, 0.9, 0.2, 0, 0, 0.1, 0.3, 0.2, 0, 0.2, 0.6, 1.2, 1.5, 1.8, 0.8, 0.5, 1.0, 0.6, 0.4, 0.8, 1.5, 0.6, 0.3, 1.0, 0.5, 0.8],
    [0, 0.1, 0.6, 1.3, 1.5, 0.7, 0.1, 0, 0, 0, 0.2, 0.1, 0, 0.1, 0.3, 0.5, 0.3, 0.2, 0.4, 0.6, 0.3, 0.2, 0.5, 0.8, 0.3, 0.5, 0.2, 0.4, 0.7, 0.3],
    [0, 0.2, 0.7, 1.6, 1.3, 0.6, 0, 0, 0, 0.1, 0.3, 0.2, 0, 0, 0.2, 0.4, 0.6, 0.3, 0.2, 0.5, 0.8, 0.4, 0.3, 0.6, 0.4, 0.2, 0.5, 0.3, 0.6, 0.4],
    [0, 0.1, 0.6, 2.2, 1.4, 0.6, 0.1, 0, 0, 0, 0.2, 0.1, 0, 0.1, 0.6, 1.0, 0.5, 0.3, 0.2, 0.4, 0.6, 0.3, 0.2, 0.5, 0.8, 0.4, 0.3, 0.6, 0.3, 0.5],
    [0, 0.2, 0.8, 1.5, 1.2, 0.7, 0.1, 0, 0, 0.1, 0.3, 0.2, 0, 0.1, 0.5, 3.9, 1.0, 1.5, 0.6, 3.9, 1.0, 0.5, 0.3, 0.6, 0.4, 0.3, 0.8, 1.2, 5.2, 1.0],
    [0, 0.1, 0.5, 1.2, 1.1, 0.5, 0, 0, 0, 0, 0.2, 0.1, 0, 0, 0.3, 0.6, 0.4, 0.2, 0.5, 0.3, 0.6, 0.4, 0.2, 0.3, 0.5, 0.3, 0.6, 0.4, 0.2, 0.5],
    [0, 0.2, 0.7, 1.4, 1.6, 0.6, 0.1, 0, 0, 0.1, 0.2, 0.1, 0, 0.1, 0.4, 0.8, 0.5, 0.3, 0.4, 0.7, 0.3, 0.5, 0.8, 0.4, 0.2, 0.6, 0.4, 0.3, 0.5, 0.7],
    [0, 0.1, 0.6, 1.5, 1.3, 0.7, 0.1, 0, 0, 0.2, 0.8, 1.2, 0.5, 0.2, 0.4, 0.6, 0.3, 0.2, 0.3, 0.5, 1.0, 0.5, 0.3, 0.6, 1.2, 0.8, 0.5, 0.3, 1.0, 2.5],
    [0, 0.2, 0.8, 1.2, 1.4, 0.6, 0, 0, 0, 0, 0.1, 0.2, 0, 0.1, 0.3, 0.5, 0.7, 0.4, 0.2, 0.3, 0.5, 0.3, 0.2, 0.4, 0.6, 0.3, 0.2, 0.4, 0.5, 0.3],
    [0, 0.1, 0.5, 1.3, 1.2, 0.6, 0.1, 0, 0, 0, 0.2, 0.1, 0, 0.2, 0.8, 1.5, 1.8, 2.5, 7.4, 1.5, 0.6, 0.3, 0.5, 0.8, 0.4, 0.6, 0.3, 0.5, 0.8, 0.4],
    [0, 0.2, 0.6, 1.4, 1.5, 0.8, 0.1, 0, 0, 0.1, 0.3, 0.2, 0.2, 1.0, 2.2, 3.9, 1.5, 0.6, 0.4, 0.3, 0.6, 0.4, 0.2, 0.5, 0.3, 0.6, 0.4, 0.3, 0.6, 0.4],
    [0, 0.1, 0.7, 1.6, 1.3, 0.6, 0, 0, 0, 0, 0.2, 0.1, 0, 0.1, 0.4, 1.5, 2.5, 3.0, 3.5, 5.0, 1.5, 0.8, 0.4, 0.3, 0.5, 0.3, 0.2, 0.4, 0.6, 0.3],
    [0, 0.2, 0.8, 1.5, 1.2, 0.5, 0.1, 0, 0, 0.1, 0.3, 0.2, 0, 0, 0.3, 0.6, 0.4, 0.3, 0.6, 1.0, 2.0, 4.3, 1.2, 0.6, 1.0, 7.3, 1.5, 0.8, 0.4, 0.6],
    [0, 0.1, 0.6, 1.4, 1.6, 4.0, 0.5, 0, 0, 0, 0.2, 0.4, 0.8, 0.3, 1.0, 5.3, 3.7, 1.5, 1.0, 0.6, 0.3, 0.5, 0.8, 0.4, 0.3, 0.6, 0.4, 0.2, 0.5, 0.3],
    [0, 0.2, 0.7, 1.3, 1.1, 0.6, 0.1, 0, 0, 0.1, 0.2, 0.1, 0, 0.1, 0.3, 0.6, 0.8, 0.5, 0.3, 0.6, 0.4, 0.2, 0.5, 0.8, 0.4, 0.3, 0.6, 0.4, 0.2, 0.5],
    [0, 0.1, 0.5, 1.5, 1.3, 0.7, 0.1, 0, 0, 0, 0.1, 0.2, 0, 0, 0.4, 0.9, 1.8, 1.0, 0.6, 0.8, 3.2, 1.0, 0.5, 0.3, 0.6, 0.4, 0.3, 0.5, 0.3, 0.6],
    [0, 0.2, 0.8, 2.5, 1.5, 0.6, 0, 0, 0, 0.1, 0.3, 0.2, 0, 0.1, 0.5, 1.0, 1.5, 5.2, 1.2, 0.6, 0.4, 0.3, 0.6, 0.4, 0.2, 0.5, 0.8, 0.4, 0.6, 0.3],
    [0, 0.1, 0.6, 1.2, 1.4, 0.6, 0.1, 0, 0, 0, 0.2, 0.1, 0, 0, 0.2, 0.5, 0.3, 0.2, 0.4, 0.6, 0.3, 0.5, 0.7, 0.4, 0.3, 0.6, 1.0, 1.5, 2.5, 3.4],
    [0, 0.2, 0.7, 1.4, 1.2, 0.5, 0, 0, 0, 0.1, 0.3, 0.2, 0, 0.1, 0.4, 0.7, 0.5, 0.3, 0.2, 0.5, 0.3, 0.2, 0.4, 0.6, 0.3, 0.2, 0.5, 0.3, 0.4, 0.2],
    [0, 0.1, 0.6, 1.6, 1.8, 0.8, 0.1, 0, 0, 0, 0.2, 0.1, 0, 0.1, 0.3, 0.6, 0.9, 0.5, 0.3, 0.4, 0.7, 0.4, 0.2, 0.5, 0.3, 0.6, 0.4, 0.2, 0.5, 0.3],
    [0, 0.2, 0.8, 1.8, 3.5, 1.0, 0.2, 0, 0, 0.1, 0.3, 0.2, 0, 0.1, 0.3, 0.5, 0.3, 0.2, 0.5, 0.8, 0.4, 0.3, 0.5, 0.3, 0.2, 0.4, 0.6, 0.3, 0.5, 0.3],
    [0, 0.1, 0.5, 1.3, 1.4, 0.7, 0.1, 0, 0, 0, 0.2, 0.1, 0, 0.1, 0.4, 0.8, 1.2, 0.6, 0.3, 0.5, 0.3, 0.6, 0.4, 0.2, 0.5, 0.8, 0.4, 0.3, 0.6, 0.4],
    [0, 0.2, 0.7, 1.5, 1.3, 0.6, 0.1, 0, 0, 0.1, 0.2, 0.1, 0, 0, 0.3, 0.5, 0.4, 0.2, 0.3, 0.6, 0.4, 0.2, 0.5, 0.7, 0.4, 0.3, 0.5, 0.8, 0.4, 0.6],
    [0, 0.1, 0.6, 1.2, 1.1, 0.5, 0, 0, 0, 0, 0.1, 0.2, 0, 0.1, 0.4, 0.6, 0.3, 0.2, 0.4, 0.3, 0.5, 0.3, 0.2, 0.4, 0.6, 0.3, 0.2, 0.5, 0.3, 0.4],
    [0, 0.2, 0.8, 1.4, 1.5, 0.7, 0.1, 0, 0, 0.1, 0.3, 0.2, 0, 0.1, 0.5, 0.8, 1.5, 2.5, 4.3, 1.0, 0.5, 0.3, 0.6, 0.4, 0.3, 0.5, 0.3, 0.6, 0.4, 0.3],
    [0, 0.1, 0.5, 1.1, 1.2, 0.6, 0, 0, 0, 0, 0.2, 0.1, 0, 0, 0.2, 0.4, 0.3, 0.2, 0.3, 0.5, 0.3, 0.2, 0.4, 0.3, 0.5, 0.3, 0.2, 0.4, 0.3, 0.5],
    [0, 0.2, 0.9, 2.0, 4.7, 1.5, 0.2, 0, 0, 0.1, 0.3, 0.2, 0, 0.1, 0.4, 0.7, 0.5, 0.3, 0.5, 0.8, 0.4, 0.3, 0.5, 0.3, 0.6, 0.4, 0.2, 0.5, 0.3, 0.4],
    [0, 0.1, 0.6, 1.4, 1.3, 2.0, 0.3, 0, 0, 0, 0.2, 0.1, 0, 0.1, 0.3, 0.5, 0.4, 0.3, 0.6, 0.4, 0.3, 0.5, 0.3, 0.2, 0.4, 0.6, 0.3, 0.5, 0.8, 1.5],
    [0, 0.2, 0.7, 3.0, 1.4, 0.6, 0.1, 0, 0, 0.1, 0.3, 0.2, 0.2, 1.2, 1.0, 0.6, 0.4, 0.3, 0.5, 0.3, 0.6, 0.4, 0.2, 0.5, 0.3, 0.6, 0.4, 0.3, 0.6, 0.4],
    [0, 0.1, 0.6, 1.3, 1.2, 0.5, 0, 0, 0, 0.2, 1.0, 0.5, 0.2, 0.1, 0.3, 0.5, 0.4, 0.2, 0.3, 0.5, 0.8, 0.6, 1.0, 2.0, 7.9, 1.5, 0.8, 0.4, 0.6, 0.3],
    [0, 0.2, 0.8, 1.6, 1.4, 0.7, 0.1, 0, 0, 0, 0.2, 0.1, 0, 0.1, 0.4, 0.8, 0.6, 0.3, 0.5, 0.7, 0.4, 0.3, 0.6, 0.4, 0.2, 0.5, 0.3, 0.6, 0.4, 0.3],
    [0, 0.1, 0.5, 1.2, 1.3, 0.6, 0.1, 0, 0, 0, 0.1, 0.2, 0, 0, 0.3, 0.5, 0.3, 0.2, 0.4, 0.3, 0.5, 0.3, 0.2, 0.4, 0.3, 0.5, 0.3, 0.2, 0.4, 0.3],
    [0, 0.2, 0.7, 2.0, 1.5, 0.6, 0.1, 0, 0, 0.1, 0.3, 0.2, 0, 0.1, 0.4, 0.6, 0.8, 0.5, 0.3, 0.6, 0.4, 0.8, 1.5, 1.0, 0.6, 3.3, 1.0, 0.5, 0.8, 0.4],
    [0, 0.1, 0.6, 1.5, 1.2, 0.5, 0, 0, 0, 0, 0.2, 0.1, 0, 0.1, 0.3, 0.6, 0.4, 0.3, 0.5, 0.4, 0.3, 0.5, 0.3, 0.6, 0.4, 0.3, 0.5, 0.3, 0.6, 0.4],
    [0, 0.2, 0.8, 1.4, 1.6, 0.7, 0.1, 0, 0, 0.1, 0.2, 0.1, 0, 0.1, 0.5, 0.8, 0.4, 0.3, 0.6, 0.4, 0.3, 0.5, 0.8, 0.4, 0.3, 0.6, 0.5, 0.8, 3.4, 3.2],
]

# --------------- sanity check ---------------
for name, rows, n in (("T850", T850_MEMBERS, 31), ("T500", T500_MEMBERS, 31), ("P", PRECIP_MEMBERS, 30)):
    for i, r in enumerate(rows):
        if len(r) != n:
            raise SystemExit(f"{name} member {i+1}: {len(r)} values")

# --------------- FIGURE ---------------
W, H, DPI = 740, 700, 100
MONO = ["DejaVu Sans Mono", "DejaVu Sans"]
plt.rcParams["font.family"] = MONO
fig = plt.figure(figsize=(W / DPI, H / DPI), dpi=DPI)
fig.patch.set_facecolor("white")


def fx(px):
    return px / W


def fy(py):
    return 1 - py / H


PX = 72.0 / DPI  # points per pixel

ax = fig.add_axes([fx(50), fy(600), fx(690) - fx(50), fy(0) - fy(600)])
Y_LO, Y_HI = (232 - 600) / 7.0, 232 / 7.0
ax.set_xlim(0, 360)
ax.set_ylim(Y_LO, Y_HI)
ax.set_facecolor("white")
for s in ("left", "right", "top"):
    ax.spines[s].set_visible(False)
ax.spines["bottom"].set_color("black")
ax.spines["bottom"].set_linewidth(2 * PX)
ax.spines["bottom"].set_zorder(6)
ax.set_xticks([])
ax.set_yticks(LEFT_TICKS)
ax.set_yticklabels([str(v) for v in LEFT_TICKS])
ax.tick_params(axis="y", length=0, pad=30 * PX, labelsize=7.5)
for lb in ax.get_yticklabels():
    lb.set_horizontalalignment("left")

ax2 = ax.twinx()
ax2.set_ylim(Y_LO + 45, Y_HI + 45)
ax2.set_xlim(0, 360)
for s in ax2.spines.values():
    s.set_visible(False)
ax2.set_yticks(RIGHT_TICKS)
ax2.set_yticklabels([str(v) for v in RIGHT_TICKS])
ax2.tick_params(axis="y", length=0, pad=20 * PX, labelsize=7.5)

# grid
for v in LEFT_TICKS:
    if v == 0:
        ax.axhline(v, color="#8c8c8c", lw=2.2 * PX, zorder=0.6)
        ax.axhline(v + 0.2, color="#c8c8c8", lw=1 * PX, zorder=0.5)
    elif v % 10 == 0:
        ax.axhline(v, color="#c0c0c0", lw=2 * PX, zorder=0.5)
    else:
        ax.axhline(v, color="#c0c0c0", lw=1 * PX, zorder=0.5)
for d in range(len(DATE_LABELS)):
    ax.axvline(24 * d, color="#c0c0c0", lw=1.2 * PX, zorder=0.5)

# members
for k in range(50):
    c = MEMBER_COLORS[k]
    kw = dict(color=c, lw=1.0 * PX, marker="+", ms=3, mew=0.7, zorder=2)
    ax.plot(HOURS_12, T850_MEMBERS[k], **kw)
    ax.plot(HOURS_12, T500_MEMBERS[k], **kw)
    ax2.plot(HOURS_12P, PRECIP_MEMBERS[k], **kw)

# control, deterministic, mean
ax.plot(HOURS_6, T850_CTRL, color="#0000ff", lw=3 * PX, zorder=3)
ax.plot(HOURS_6, T500_CTRL, color="#0000ff", lw=3 * PX, zorder=3)
ax2.plot(HOURS_6P, PRECIP_CTRL, color="#0000ff", lw=3 * PX, zorder=3)
ax.plot(HOURS_6_OPER, T850_OPER, color="black", lw=3.5 * PX, zorder=4)
ax.plot(HOURS_6_OPER, T500_OPER, color="black", lw=3.5 * PX, zorder=4)
ax2.plot(HOURS_6P_OPER, PRECIP_OPER, color="black", lw=3.5 * PX, zorder=4)
ax.plot(HOURS_6, T850_MEAN, color="#ff0000", lw=5 * PX, zorder=5)
ax.plot(HOURS_6, T500_MEAN, color="#ff0000", lw=5 * PX, zorder=5)
ax2.plot(HOURS_6P, PRECIP_MEAN, color="#ff0000", lw=5 * PX, zorder=5)

# in-plot labels
TXT = dict(fontsize=7.5, color="black", va="center", ha="left", zorder=7)
ax.text(5.6, (232 - 128) / 7.0, "Temp. 850hPa", **TXT)
ax.text(5.6, (232 - 306) / 7.0, "Temp. 500hPa", **TXT)
ax.text(5.6, (232 - 508) / 7.0, "Précipitations", **TXT)

# date labels
off = mtrans.ScaledTranslation(8 / DPI, -1.5 / DPI, fig.dpi_scale_trans)
tr = mtrans.blended_transform_factory(ax.transData, ax.transAxes) + off
for i, lab in enumerate(DATE_LABELS):
    ax.text(24 * i, 0, lab, transform=tr, rotation=90, ha="center", va="top",
            fontsize=7.0, clip_on=False)

fig.text(fx(20), fy(607), "(°C)", fontsize=7.5, ha="left", va="center")
fig.text(fx(710), fy(607), "(mm)", fontsize=7.5, ha="left", va="center")

# legend
def hbar(x0, x1, y, color, h=4):
    fig.add_artist(Rectangle((fx(x0), fy(y + h / 2)), fx(x1) - fx(x0), h / H,
                             transform=fig.transFigure, facecolor=color, edgecolor="none"))


hbar(36, 65, 637, "#ff0000")
fig.text(fx(75), fy(637), "Moyenne des scénarios", fontsize=7.5, ha="left", va="center")
hbar(225, 255, 637, "#0000ff")
fig.text(fx(265), fy(637), "Run de contrôle", fontsize=7.5, ha="left", va="center")
hbar(225, 255, 647, "black")
fig.text(fx(265), fy(647), "Run CEP/ECMWF", fontsize=7.5, ha="left", va="center")

fig.text(fx(370), fy(653), "50 Perts.", fontsize=7.5, ha="left", va="center")
STEP = 10.87
for j in range(25):
    x0 = 430 + j * STEP
    for row, (y0, y1) in enumerate(((640.3, 648.7), (649.3, 657.5))):
        col = MEMBER_COLORS[j + 25 * row]
        fig.add_artist(Rectangle((fx(x0), fy(y1)), 9.4 / W, (y1 - y0) / H,
                                 transform=fig.transFigure, facecolor=col, edgecolor="none"))
    fig.text(fx(x0 + 4.7), fy(637.2), f"{j + 1:02d}", fontsize=5.6, ha="center", va="center")
    fig.text(fx(x0 + 4.7), fy(662.2), f"{j + 26:02d}", fontsize=5.6, ha="center", va="center")

# title box
fig.add_artist(Rectangle((fx(20), fy(699)), 420 / W, 31 / H, transform=fig.transFigure,
                         facecolor="none", edgecolor="black", lw=1.2 * PX))
fig.text(fx(30), fy(677), "Diagramme ensembles ECMWF/CEP 0.4° sur 360h pour Carcassonne",
         fontsize=8.2, fontweight="bold", ha="left", va="center")
fig.text(fx(30), fy(691), "Températures 850hPa et 500hPa (°C) , précipitations (mm)",
         fontsize=7.2, ha="left", va="center")
fig.text(fx(450), fy(676), "Ensemble ECMWF/CEP du 19/11/2023 - 00Z",
         fontsize=7.2, ha="left", va="center")
fig.text(fx(450), fy(692), "Copyright 2023 Meteociel.fr - ECMWF",
         fontsize=8.2, fontweight="bold", ha="left", va="center")

fig.savefig("out.png", dpi=DPI, facecolor="white")
